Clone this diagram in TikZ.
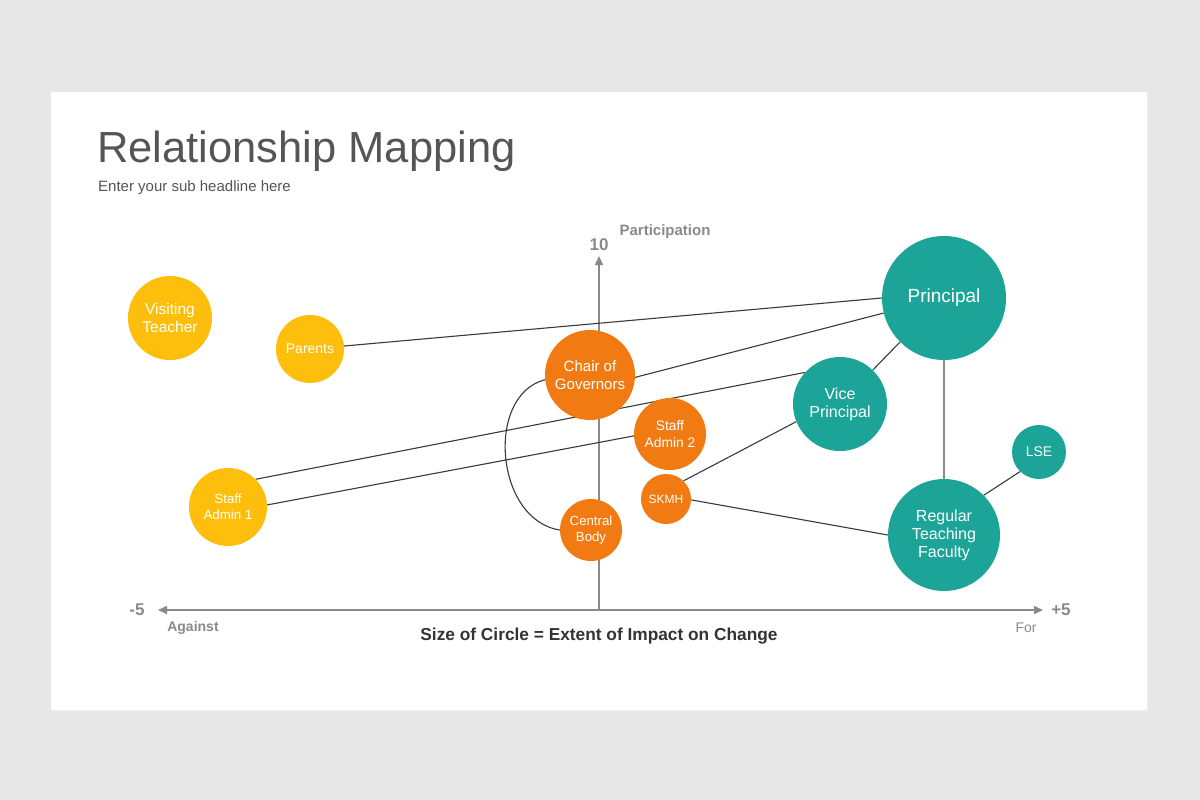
\documentclass[tikz,border=0pt]{standalone}
\usepackage{fontspec}
\setmainfont{Liberation Sans}
\usetikzlibrary{arrows.meta}
\definecolor{bgc}{HTML}{E8E7E8}
\definecolor{ylw}{HTML}{FDBE0C}
\definecolor{org}{HTML}{F27A12}
\definecolor{tea}{HTML}{1BA497}
\definecolor{titc}{HTML}{555555}
\definecolor{axc}{HTML}{8A8A8A}
\definecolor{lnc}{HTML}{3A3A3A}
\begin{document}
\begin{tikzpicture}[x=1pt,y=-1pt,
  bub/.style 2 args={circle,inner sep=0pt,text=white,align=center,font=\fontsize{#1}{#2}\selectfont},
  yb/.style={fill=ylw},
  ob/.style={fill=org},
  tb/.style={fill=tea},
  link/.style={draw=lnc,line width=1.1pt},
  axis/.style={draw=axc,line width=1.6pt,-{Triangle[length=9pt,width=8pt]}},
  lab/.style={text=axc,font=\bfseries\fontsize{#1}{#1}\selectfont,inner sep=0pt}]
\useasboundingbox (0,0) rectangle (1200,800);
\fill[bgc] (0,0) rectangle (1200,800);
\fill[black!8] (52,94) rectangle (1149,712);
\fill[white] (51,92) rectangle (1147,710);
% title
\node[anchor=base west,inner sep=0pt,text=titc,font=\fontsize{43.5}{44}\selectfont] (title) at (97,162) {Relationship Mapping};
\node[anchor=base west,inner sep=0pt,text=titc,font=\fontsize{15}{16}\selectfont] (sub) at (98,191) {Enter your sub headline here};
% axes
\coordinate (o) at (599,610);
\coordinate (ytop) at (599,256);
\coordinate (xl) at (158,610);
\coordinate (xr) at (1043,610);
\draw[axis] (o) -- (ytop);
\draw[axis] (o) -- (xl);
\draw[axis] (o) -- (xr);
\node[lab=15] (part) at (665,232) {Participation};
\node[lab=17] (ten) at (599,245) {10};
\node[lab=17] (m5) at (137,610) {-5};
\node[lab=17] (p5) at (1061,610) {+5};
\node[lab=14] (ag) at (193,628) {Against};
\node[text=axc,inner sep=0pt,font=\fontsize{14}{14}\selectfont] (for) at (1026,628) {For};
\node[inner sep=0pt,text=black!80,font=\bfseries\fontsize{17.3}{18}\selectfont] (cap) at (599,636) {Size of Circle = Extent of Impact on Change};
% bubble placeholders (for links)
\path
  (170,318) node[circle,inner sep=0pt,minimum size=84pt] (vt) {}
  (310,349) node[circle,inner sep=0pt,minimum size=68pt] (pa) {}
  (228,507) node[circle,inner sep=0pt,minimum size=78pt] (sa1) {}
  (590,375) node[circle,inner sep=0pt,minimum size=90pt] (cg) {}
  (670,434) node[circle,inner sep=0pt,minimum size=72pt] (sa2) {}
  (666,499) node[circle,inner sep=0pt,minimum size=50pt] (sk) {}
  (591,530) node[circle,inner sep=0pt,minimum size=62pt] (cb) {}
  (944,298) node[circle,inner sep=0pt,minimum size=124pt] (pr) {}
  (840,404) node[circle,inner sep=0pt,minimum size=94pt] (vp) {}
  (1039,452) node[circle,inner sep=0pt,minimum size=54pt] (lse) {}
  (944,535) node[circle,inner sep=0pt,minimum size=112pt] (rtf) {};
% links
\draw[link] (pa.5) -- (pr.180);
\draw[link] (cg.-3) -- (pr.194);
\draw[link] (sa1.45) -- (vp.138);
\draw[link] (sa1.3) -- (sa2.183);
\draw[link] (pr.225) -- (vp.46);
\draw[draw=axc,line width=1.6pt] (pr.south) -- (rtf.north);
\draw[link] (vp.202) -- (sk.46);
\draw[link] (sk.-2) -- (rtf.180);
\draw[link] (lse.226) -- (rtf.45);
\draw[link] (cg.186) .. controls (485,395) and (495,520) .. (cb.180);
% bubbles drawn on top
\node[bub={15.5}{18},yb,minimum size=84pt] (vtl) at (vt) {Visiting\\Teacher};
\node[bub={14}{15},yb,minimum size=68pt] (pal) at (pa) {Parents};
\node[bub={13.3}{16},yb,minimum size=78pt] (sa1l) at (sa1) {Staff\\Admin 1};
\node[bub={15}{18},ob,minimum size=90pt] (cgl) at (cg) {Chair of\\Governors};
\node[bub={13.8}{16.5},ob,minimum size=72pt] (sa2l) at (sa2) {Staff\\Admin 2};
\node[bub={12}{14},ob,minimum size=50pt] (skl) at (sk) {SKMH};
\node[bub={13.2}{16.5},ob,minimum size=62pt] (cbl) at (cb) {Central\\Body};
\node[bub={19}{20},tb,minimum size=124pt] (prl) at (pr) {Principal};
\node[bub={16}{18},tb,minimum size=94pt] (vpl) at (vp) {Vice\\Principal};
\node[bub={14}{16},tb,minimum size=54pt] (lsel) at (lse) {LSE};
\node[bub={16}{18},tb,minimum size=112pt] (rtfl) at (rtf) {Regular\\Teaching\\Faculty};
\end{tikzpicture}
\end{document}
